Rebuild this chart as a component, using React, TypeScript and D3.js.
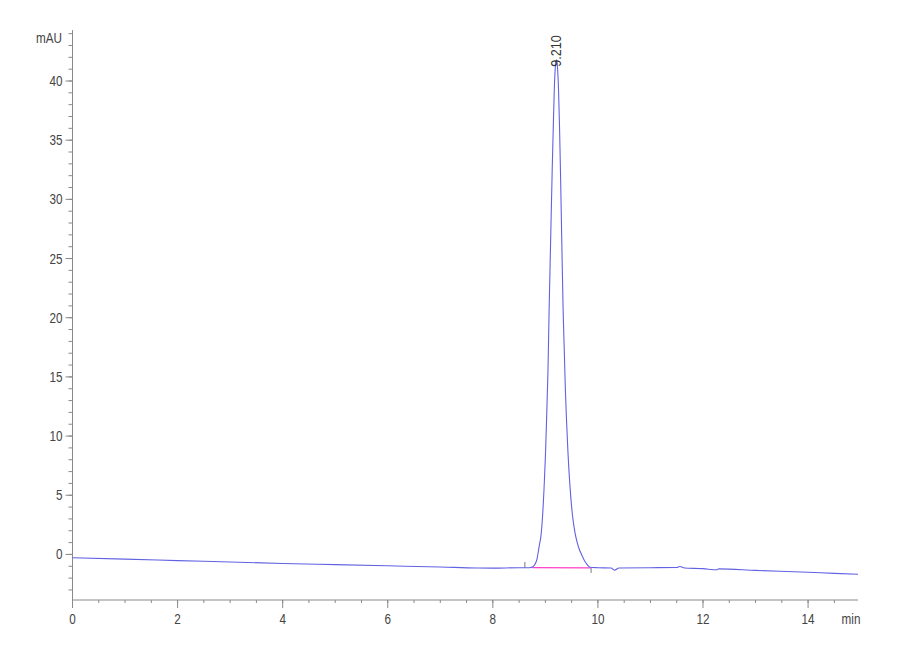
import React from 'react';
import * as d3 from 'd3';

// chromatogram trace: retention time (min) and absorbance (mAU)
const traceTime = [
  0, 1, 2, 3, 4, 5, 6, 7, 7.7, 8, 8.5, 8.7, 8.76, 8.8, 8.84, 8.86, 8.89, 8.914, 8.94, 8.976,
  9.0, 9.022, 9.05, 9.071, 9.1, 9.13, 9.15, 9.17, 9.19, 9.21, 9.23, 9.25, 9.27, 9.29, 9.31,
  9.338, 9.36, 9.38, 9.403, 9.43, 9.466, 9.5, 9.53, 9.561, 9.6, 9.64, 9.688, 9.73, 9.77, 9.81, 9.85,
  10.0, 10.25, 10.32, 10.4, 11.0, 11.5, 11.56, 11.65, 12.0, 12.26, 12.3, 13.0, 14.0, 14.5, 14.95,
];
const traceMAU = [
  -0.28, -0.4, -0.52, -0.64, -0.76, -0.86, -0.96, -1.06, -1.15, -1.16, -1.12, -1.12, -1.05, -0.85, -0.4, 0.1, 0.9, 1.5, 2.8, 5.7,
  8.2, 11.3, 15.6, 20.6, 26.5, 32.5, 36.0, 39.3, 41.2, 41.8, 41.2, 39.3, 36.0, 31.8, 27.0,
  20.6, 17.2, 14.0, 11.3, 8.6, 5.9, 4.0, 2.8, 1.9, 1.1, 0.5, 0.0, -0.4, -0.7, -0.95, -1.08,
  -1.12, -1.15, -1.33, -1.14, -1.12, -1.1, -1.02, -1.15, -1.2, -1.3, -1.22, -1.35, -1.5, -1.6, -1.67,
];

// integration baseline of the peak
const integStart = [8.75, -1.12];
const integEnd = [9.86, -1.14];
const peakTime = 9.21;
const peakMAU = 41.8;
const peakLabel = '9.210';

const xMajor = [0, 2, 4, 6, 8, 10, 12, 14];
const yMajor = [0, 5, 10, 15, 20, 25, 30, 35, 40];

const W = 900;
const H = 660;

const x = d3.scaleLinear().domain([0, 14.95]).range([72.5, 858]);
const y = d3.scaleLinear().domain([-3.85, 40]).range([600, 81]);

const textColor = '#444';
const axisColor = '#8a8a8a';
const font = "'Liberation Sans', Arial, sans-serif";

// condensed label like the instrument software
const Label = ({ tx, ty, anchor, children }: any) => (
  <g transform={`translate(${tx},${ty}) scale(0.78,1)`}>
    <text textAnchor={anchor} fontFamily={font} fontSize={15} fill={textColor}>{children}</text>
  </g>
);

export default function App() {
  const line = d3.line<number>()
    .x((_, i) => x(traceTime[i]))
    .y((d) => y(d))
    .curve(d3.curveMonotoneX);

  const xMinor = d3.range(0, 14.95, 0.5);
  const yMinor = d3.range(-3, 45, 1);
  const yTop = y(44.3);

  return (
    <svg width={W} height={H} style={{ position: 'absolute', left: 0, top: 0, background: '#fff' }}>
      {/* y axis */}
      <line x1={x(0)} x2={x(0)} y1={yTop} y2={y(-3.85)} stroke={axisColor} strokeWidth={1} />
      {yMinor.map((v) => (
        <line key={'ym' + v} x1={x(0) - 4} x2={x(0)} y1={y(v)} y2={y(v)} stroke={axisColor} />
      ))}
      {yMajor.map((v) => (
        <g key={'yM' + v}>
          <line x1={x(0) - 7} x2={x(0)} y1={y(v)} y2={y(v)} stroke={axisColor} />
          <Label tx={x(0) - 10} ty={y(v) + 5} anchor="end">{v}</Label>
        </g>
      ))}
      <Label tx={62} ty={43} anchor="end">mAU</Label>

      {/* x axis */}
      <line x1={x(0)} x2={x(14.95)} y1={y(-3.85)} y2={y(-3.85)} stroke={axisColor} />
      {xMinor.map((t) => (
        <line key={'xm' + t} x1={x(t)} x2={x(t)} y1={y(-3.85)} y2={y(-3.85) + 3} stroke={axisColor} />
      ))}
      {xMajor.map((t) => (
        <g key={'xM' + t}>
          <line x1={x(t)} x2={x(t)} y1={y(-3.85)} y2={y(-3.85) + 8} stroke={axisColor} />
          <Label tx={x(t)} ty={624} anchor="middle">{t}</Label>
        </g>
      ))}
      <Label tx={851} ty={624} anchor="middle">min</Label>

      {/* integration baseline and markers */}
      <line x1={x(integStart[0])} x2={x(integEnd[0])} y1={y(integStart[1])} y2={y(integEnd[1])}
        stroke="#ff3fc8" strokeWidth={1.3} />
      <line x1={x(8.61)} x2={x(8.61)} y1={y(-1.15)} y2={y(-1.15) - 6} stroke="#555" strokeWidth={0.8} />
      <line x1={x(9.87)} x2={x(9.87)} y1={y(-1.14)} y2={y(-1.14) + 5} stroke="#555" strokeWidth={0.8} />

      {/* trace */}
      <path d={line(traceMAU) || ''} fill="none" stroke="#6262e2" strokeWidth={1.1} />

      {/* peak label */}
      <g transform={`translate(${x(peakTime) + 5},${y(peakMAU) + 7}) rotate(-90) scale(0.9,1)`}>
        <text textAnchor="start" fontFamily={font} fontSize={14} fill="#333">{peakLabel}</text>
      </g>
    </svg>
  );
}
